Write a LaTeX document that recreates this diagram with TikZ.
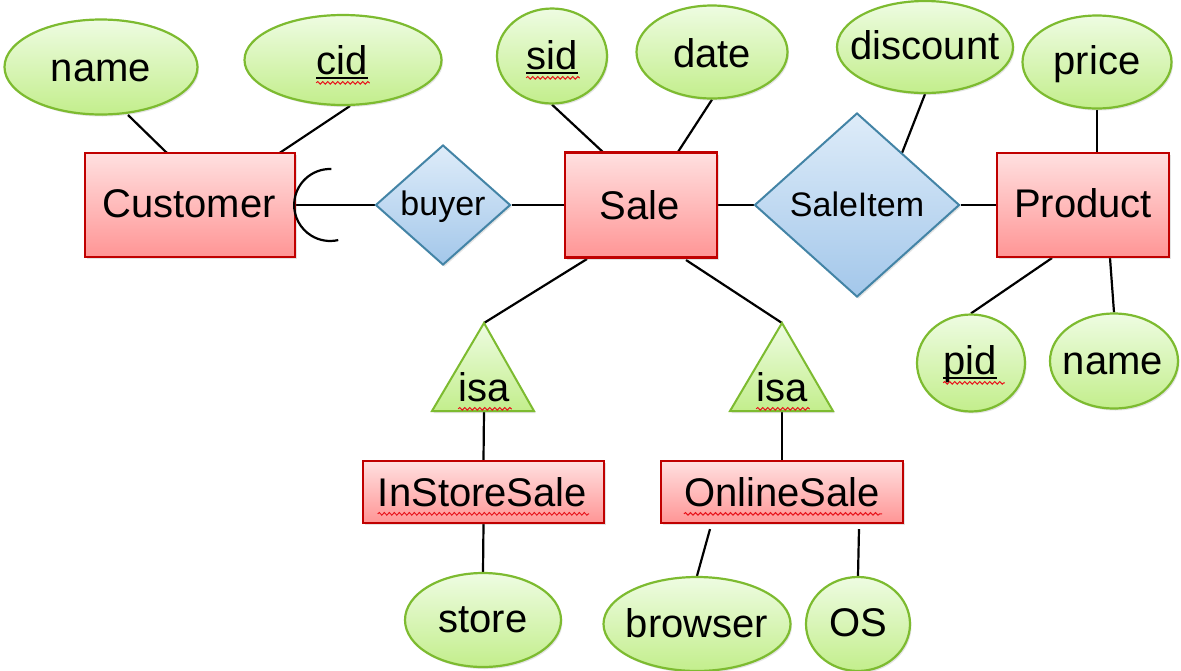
\documentclass[tikz,border=0pt]{standalone}
\usepackage{fontspec}
\setmainfont{Liberation Sans}
\usetikzlibrary{shapes.geometric,shadows,calc,decorations.pathmorphing}
\pgfdeclarelayer{background}
\pgfsetlayers{background,main}

\definecolor{attrtop}{HTML}{EEFCE2}
\definecolor{attrbot}{HTML}{C3EE8C}
\definecolor{attrdraw}{HTML}{7DBB30}
\definecolor{enttop}{HTML}{FFE0E0}
\definecolor{entbot}{HTML}{FF9595}
\definecolor{entdraw}{HTML}{C00000}
\definecolor{reltop}{HTML}{DEECF9}
\definecolor{relbot}{HTML}{A3C7EA}
\definecolor{reldraw}{HTML}{4384A6}
\definecolor{spell}{HTML}{E8141C}

\tikzset{
 sh/.style={drop shadow={opacity=0.22,shadow xshift=1.5pt,shadow yshift=-2pt}},
 attr/.style={ellipse, draw=attrdraw, line width=2.2pt, top color=attrtop, bottom color=attrbot, inner sep=0pt, sh},
 ent/.style={rectangle, draw=entdraw, line width=2.2pt, top color=enttop, bottom color=entbot, inner sep=0pt, sh},
 rel/.style={diamond, draw=reldraw, line width=2pt, top color=reltop, bottom color=relbot, inner sep=0pt, sh},
 isatri/.style={draw=attrdraw, line width=2pt, top color=attrtop, bottom color=attrbot, line join=miter, sh},
 lbl/.style={inner sep=0pt, text height=36.2pt, text depth=8.5pt, font=\fontsize{40pt}{48pt}\selectfont},
 lblm/.style={inner sep=0pt, text height=30.8pt, text depth=7.2pt, font=\fontsize{34pt}{40pt}\selectfont},
 conn/.style={line width=2.2pt, black},
 keyline/.style={line width=2pt, black},
 wavy/.style={spell, line width=1pt, decorate, decoration={snake, segment length=5pt, amplitude=1.3pt}},
}

\begin{document}
\begin{tikzpicture}[x=1pt,y=-1pt]
\useasboundingbox (0,0) rectangle (1181,670);
\begin{pgfonlayer}{background}
\fill[white] (0,0) rectangle (1181,670);
\end{pgfonlayer}

% shapes
\node[attr, minimum width=193pt, minimum height=95pt] (nameA) at (101,67) {};
\node[attr, minimum width=197pt, minimum height=90pt] (cid) at (343,60) {};
\node[ent, minimum width=210pt, minimum height=104pt] (cust) at (190,205) {};
\node[rel, minimum width=135pt, minimum height=120pt] (buyer) at (443,205) {};
\node[attr, minimum width=110pt, minimum height=95pt] (sid) at (552,56) {};
\node[attr, minimum width=151pt, minimum height=93pt] (date) at (712,52) {};
\node[ent, minimum width=152pt, minimum height=105pt] (sale) at (641,205) {};
\node[rel, minimum width=205pt, minimum height=184pt] (saleitem) at (857,205) {};
\node[attr, minimum width=176pt, minimum height=92pt] (discount) at (925,47) {};
\node[attr, minimum width=149pt, minimum height=93pt] (price) at (1097,62) {};
\node[ent, minimum width=172pt, minimum height=104pt] (product) at (1083,205) {};
\node[attr, minimum width=108pt, minimum height=97pt] (pid) at (971,363) {};
\node[attr, minimum width=128pt, minimum height=95pt] (nameB) at (1114,361) {};
\node[ent, minimum width=241pt, minimum height=62pt] (instore) at (483.5,492) {};
\node[ent, minimum width=242pt, minimum height=62pt] (online) at (782,492) {};
\node[attr, minimum width=156pt, minimum height=94pt] (store) at (483,620) {};
\node[attr, minimum width=187pt, minimum height=94pt] (browser) at (697,624) {};
\node[attr, minimum width=104pt, minimum height=94pt] (os) at (858,624) {};

% isa triangles
\coordinate (isaAtop) at (484,323);
\coordinate (isaAl) at (432,411);
\coordinate (isaAr) at (534,411);
\coordinate (isaAbase) at (484,411);
\coordinate (isaBtop) at (782,323);
\coordinate (isaBl) at (730,411);
\coordinate (isaBr) at (833,411);
\coordinate (isaBbase) at (782,411);
\path[isatri] (isaAtop) -- (isaAr) -- (isaAl) -- cycle;
\path[isatri] (isaBtop) -- (isaBr) -- (isaBl) -- cycle;

% labels
\node[lbl] (nameAt) at (101,68) {name};
\node[lbl] (cidt) at (342,61) {cid};
\node[lbl] (custt) at (189,204) {Customer};
\node[lblm] (buyert) at (443,204) {buyer};
\node[lbl] (sidt) at (552,56) {sid};
\node[lbl] (datet) at (712,54) {date};
\node[lbl] (salet) at (640,206) {Sale};
\node[lblm] (saleitemt) at (857,205) {SaleItem};
\node[lbl] (discountt) at (925,46) {discount};
\node[lbl] (pricet) at (1097,61) {price};
\node[lbl] (productt) at (1083,204) {Product};
\node[lbl] (pidt) at (970,361) {pid};
\node[lbl] (nameBt) at (1113,361) {name};
\node[lbl] (isaAt) at (484,388) {isa};
\node[lbl] (isaBt) at (782,388) {isa};
\node[lbl] (instoret) at (482.5,493) {InStoreSale};
\node[lbl] (onlinet) at (782,493) {OnlineSale};
\node[lbl] (storet) at (483,619) {store};
\node[lbl] (browsert) at (697,624) {browser};
\node[lbl] (ost) at (858,623) {OS};

% key underlines and spell-check marks
\foreach \k in {cidt,sidt,pidt}{
  \draw[keyline] ($(\k.base west)+(0,3)$) -- ($(\k.base east)+(0,3)$);
}
\draw[wavy] ($(cidt.base west)+(0,8)$) -- ($(cidt.base east)+(2,8)$);
\draw[wavy] ($(sidt.base west)+(0,8)$) -- ($(sidt.base east)+(2,8)$);
\draw[wavy] ($(pidt.base west)+(0,8)$) -- ($(pidt.base east)+(8,8)$);
\draw[wavy] ($(isaAt.base west)+(0,7)$) -- ($(isaAt.base east)+(2,7)$);
\draw[wavy] ($(isaBt.base west)+(0,7)$) -- ($(isaBt.base east)+(2,7)$);
\draw[wavy] ($(instoret.base west)+(0,7)$) -- ($(instoret.base east)+(2,7)$);
\draw[wavy] ($(onlinet.base west)+(0,7)$) -- ($(onlinet.base east)+(2,7)$);

% crow's-foot arc at Customer
\draw[conn] ($(cust.east)+(35.3,-36)$) arc[start angle=272,end angle=77,radius=36];

% connectors
\begin{pgfonlayer}{background}
\draw[conn] ($(nameA.center)+(27,48)$) -- ($(cust.center)+(-22,-51)$);
\draw[conn] ($(cid.center)+(7,46)$) -- ($(cust.center)+(88,-51)$);
\draw[conn] (cust.east) -- (buyer.west);
\draw[conn] (buyer.east) -- (sale.west);
\draw[conn] (sid.south) -- ($(sale.center)+(-36,-51)$);
\draw[conn] (date.south) -- ($(sale.center)+(35,-50)$);
\draw[conn] (sale.east) -- (saleitem.west);
\draw[conn] (discount.south) -- ($(saleitem.center)+(45,-52)$);
\draw[conn] (saleitem.east) -- (product.west);
\draw[conn] (price.south) -- (price.south |- product.north);
\draw[conn] ($(product.center)+(-31,53)$) -- (pid.north);
\draw[conn] ($(product.center)+(27,53)$) -- (nameB.north);
\draw[conn] ($(sale.center)+(-54,54)$) -- (isaAtop);
\draw[conn] ($(sale.center)+(45,55)$) -- (isaBtop);
\draw[conn] (isaAbase) -- (instore.north);
\draw[conn] (isaBbase) -- (online.north);
\draw[conn] (instore.south) -- (store.north);
\draw[conn] ($(online.south)+(-72,5)$) -- (browser.north);
\draw[conn] ($(online.south)+(77,5)$) -- (os.north);
\end{pgfonlayer}
\end{tikzpicture}
\end{document}
